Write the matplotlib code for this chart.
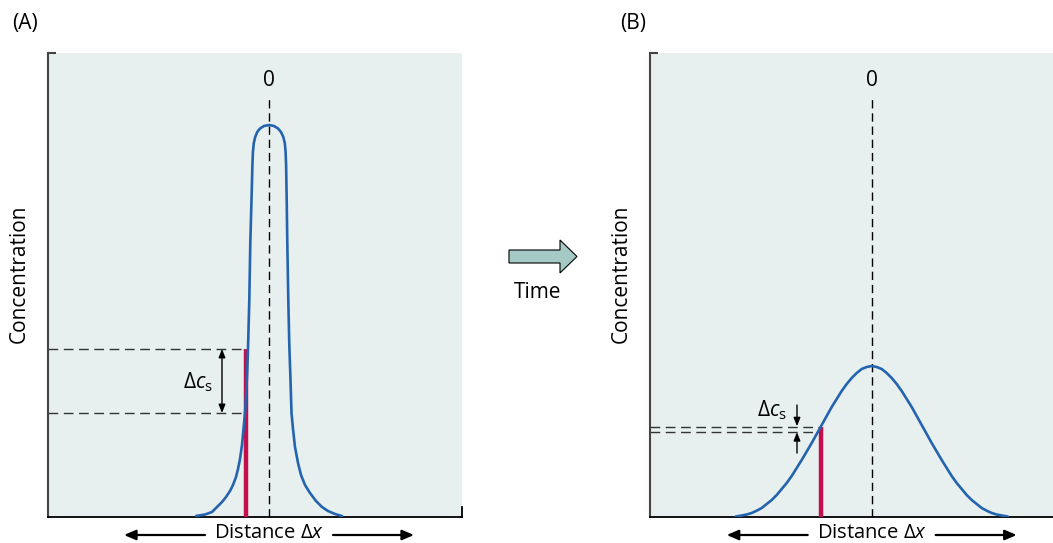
import numpy as np
import matplotlib.pyplot as plt
from matplotlib.patches import FancyArrow

plt.rcParams['font.family'] = ['Open Sans', 'DejaVu Sans']
plt.rcParams['mathtext.fontset'] = 'custom'
plt.rcParams['mathtext.rm'] = 'Open Sans'
plt.rcParams['mathtext.it'] = 'Open Sans:italic'

# Concentration profiles (distance, concentration)
# (A) narrow, flat-topped profile at the start
xa = np.array([-0.73, -0.64, -0.57, -0.52, -0.47, -0.43, -0.39, -0.36, -0.33,
               -0.31, -0.29, -0.27, -0.255, -0.24, -0.23, -0.22, -0.21,
               -0.197, -0.187, -0.175, -0.166, -0.161, -0.152, -0.138,
               -0.118, -0.09, -0.05, 0.0, 0.05, 0.09, 0.12, 0.143, 0.158,
               0.166, 0.171, 0.177, 0.183, 0.193, 0.203, 0.215, 0.225, 0.24,
               0.26, 0.29, 0.32, 0.36, 0.41, 0.47, 0.53, 0.59, 0.66, 0.73])
ca = np.array([0.01, 0.025, 0.05, 0.10, 0.15, 0.20, 0.26, 0.32, 0.40, 0.48,
               0.58, 0.72, 0.88, 1.04, 1.20, 1.40, 1.68, 2.17, 2.74, 3.17,
               3.52, 3.65, 3.74, 3.80, 3.85, 3.885, 3.91, 3.92, 3.91, 3.885,
               3.85, 3.80, 3.74, 3.65, 3.52, 3.17, 2.74, 2.17, 1.72, 1.37,
               1.04, 0.88, 0.70, 0.54, 0.42, 0.32, 0.24, 0.16, 0.10, 0.06,
               0.03, 0.01])

# (B) broad profile after some time
xb_half = np.array([0.0, 0.05, 0.10, 0.15, 0.20, 0.25, 0.30, 0.35, 0.40, 0.45,
                    0.50, 0.55, 0.60, 0.65, 0.70, 0.75, 0.80, 0.85, 0.90,
                    0.95, 1.00, 1.05, 1.10, 1.15, 1.20, 1.25, 1.30, 1.36])
cb_half = np.array([1.51, 1.50, 1.48, 1.44, 1.39, 1.33, 1.26, 1.18, 1.10,
                    1.01, 0.92, 0.83, 0.74, 0.655, 0.57, 0.49, 0.41, 0.34,
                    0.28, 0.22, 0.17, 0.13, 0.09, 0.063, 0.04, 0.025, 0.015,
                    0.005])
xb = np.concatenate([-xb_half[::-1], xb_half[1:]])
cb = np.concatenate([cb_half[::-1], cb_half[1:]])

# sample position and the concentration step across it
x_s = [-0.23, -0.51]
c_hi = [1.68, 0.903]
c_lo = [1.04, 0.853]

bg = '#e7f0ef'
blue = '#2464ae'
red = '#c3104c'
fs = 15

fig = plt.figure(figsize=(10.53, 5.43), dpi=100)

# overlay in pixel units for labels and the time arrow
ov = fig.add_axes([0, 0, 1, 1])
ov.set_xlim(0, 1053)
ov.set_ylim(543, 0)
ov.axis('off')
ov.text(25, 24, '(A)', fontsize=fs, ha='center', va='center')
ov.text(633, 24, '(B)', fontsize=fs, ha='center', va='center')
ov.add_patch(FancyArrow(509, 256.5, 68, 0, width=13, head_width=33,
                        head_length=17, length_includes_head=True,
                        fc='#a5c9c4', ec='black', lw=0.8))
ov.text(538, 292, 'Time', fontsize=fs, ha='center', va='center')
ov.text(19, 274, 'Concentration', fontsize=fs, rotation=90,
        ha='center', va='center')
ov.text(621, 274, 'Concentration', fontsize=fs, rotation=90,
        ha='center', va='center')

ax_a = fig.add_axes([48 / 1053, 26 / 543, 414 / 1053, 464 / 543])
ax_b = fig.add_axes([650 / 1053, 26 / 543, 403 / 1053, 464 / 543])
ax_a.set_xlim(-2.21, 1.93)
ax_b.set_xlim(-2.217, 1.813)

panels = [(ax_a, xa, ca), (ax_b, xb, cb)]
for i, (ax, x, c) in enumerate(panels):
    ax.set_ylim(0, 4.64)
    ax.set_facecolor(bg)
    ax.set_xticks([])
    ax.set_yticks([])
    ax.spines['top'].set_visible(False)
    ax.spines['right'].set_visible(False)
    ax.spines['left'].set_color('#444444')
    ax.spines['left'].set_linewidth(1.5)
    ax.spines['bottom'].set_color('black')
    ax.spines['bottom'].set_linewidth(1.3)
    # small corner tick at the top of the y axis
    ax.plot([0, 0.02], [1, 1], transform=ax.transAxes, color='#444444',
            lw=1.5, clip_on=False, solid_capstyle='butt')

    # centre line and zero label
    ax.plot([0, 0], [0, 4.22], color='black', lw=1.0, ls=(0, (6, 3.5)))
    ax.text(0, 4.37, '0', fontsize=fs, ha='center', va='center')

    # profile
    ax.plot(x, c, color=blue, lw=1.9, zorder=4, solid_capstyle='round',
            solid_joinstyle='round')

    # sample bar and concentration levels
    xl = ax.get_xlim()[0]
    ax.plot([x_s[i], x_s[i]], [0, c_hi[i]], color=red, lw=3.2, zorder=3,
            solid_capstyle='butt')
    for lev in (c_hi[i], c_lo[i]):
        ax.plot([xl, x_s[i] - 0.01], [lev, lev], color='#333333', lw=1.0,
                ls=(0, (7, 4)))

    # distance arrows below the axis
    for sgn in (-1, 1):
        ax.annotate('', xy=(sgn * 1.45, -0.18), xytext=(sgn * 0.64, -0.18),
                    xycoords='data', annotation_clip=False,
                    arrowprops=dict(arrowstyle='-|>,head_length=0.7,head_width=0.3',
                                    color='black', lw=1.6, shrinkA=0, shrinkB=0))
    ax.text(0, -0.165, r'Distance $\Delta x$', fontsize=14.5, ha='center',
            va='center', clip_on=False)

# right-end tick on panel A
ax_a.plot([1, 1], [0, 0.022], transform=ax_a.transAxes, color='black',
          lw=1.3, clip_on=False)

# concentration step annotations
ax_a.annotate('', xy=(-0.47, c_hi[0]), xytext=(-0.47, c_lo[0]),
              arrowprops=dict(arrowstyle='<|-|>,head_length=0.5,head_width=0.2',
                              color='black', lw=1.0, shrinkA=0, shrinkB=0))
ax_a.text(-0.71, 1.35, r'$\Delta c_{\mathrm{s}}$', fontsize=fs,
          ha='center', va='center')

ax_b.annotate('', xy=(-0.747, c_hi[1] + 0.005), xytext=(-0.747, 1.12),
              arrowprops=dict(arrowstyle='-|>,head_length=0.5,head_width=0.2',
                              color='black', lw=1.0, shrinkA=0, shrinkB=0))
ax_b.annotate('', xy=(-0.747, c_lo[1] - 0.005), xytext=(-0.747, 0.64),
              arrowprops=dict(arrowstyle='-|>,head_length=0.5,head_width=0.2',
                              color='black', lw=1.0, shrinkA=0, shrinkB=0))
ax_b.text(-1.0, 1.07, r'$\Delta c_{\mathrm{s}}$', fontsize=fs,
          ha='center', va='center')

fig.savefig('out.png', dpi=100)
